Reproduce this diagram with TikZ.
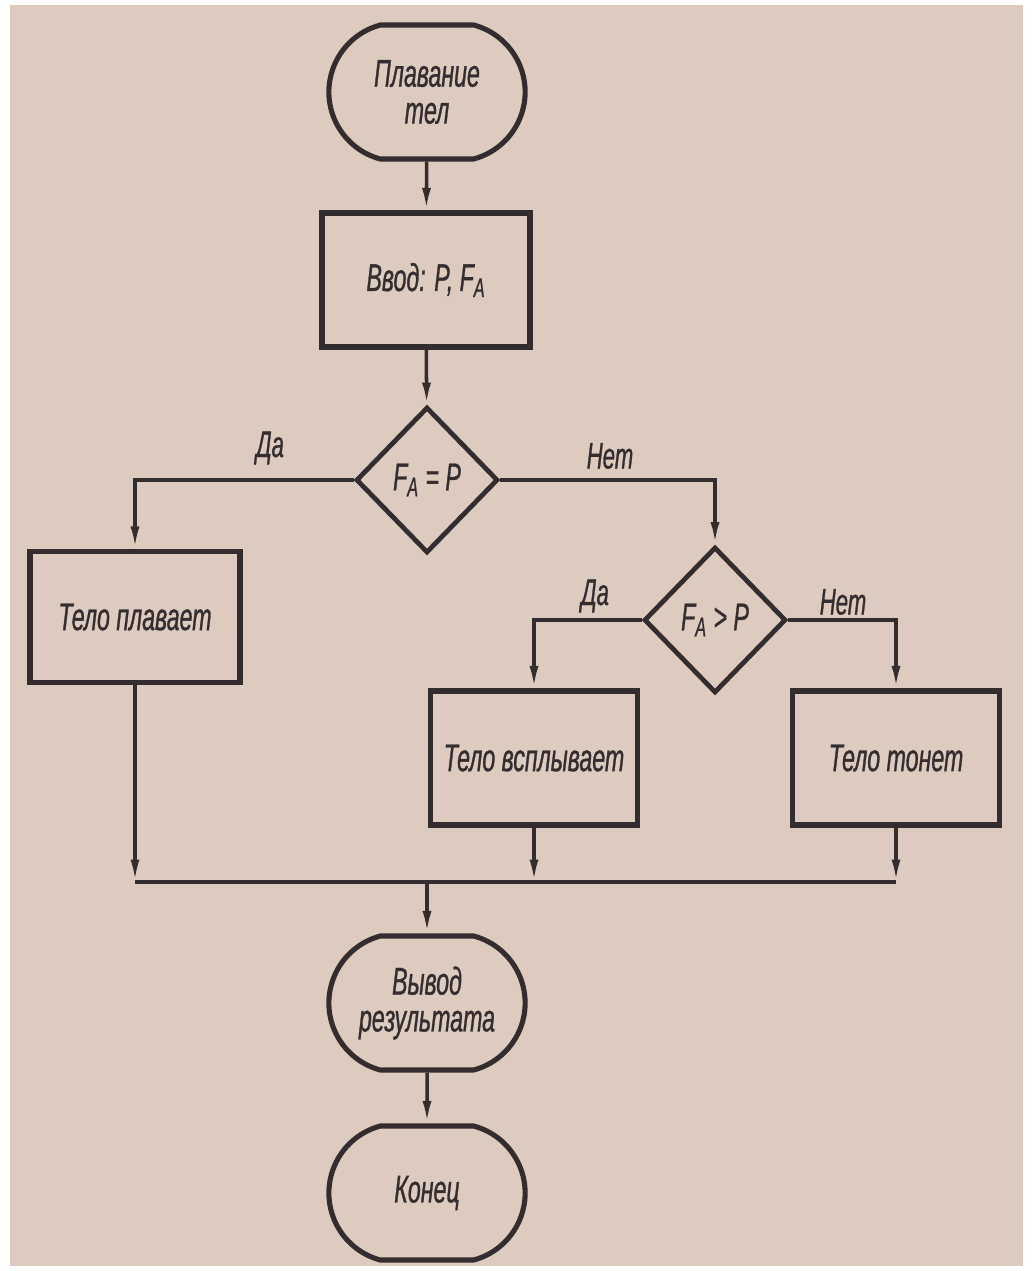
\documentclass[tikz,border=0pt]{standalone}
\usepackage{fontspec}
\setmainfont{Liberation Sans}[FakeStretch=0.6, ItalicFeatures={FakeBold=0.8}]
\usetikzlibrary{shapes.geometric,shapes.misc,arrows.meta}
\definecolor{paper}{RGB}{222,203,192}
\definecolor{ink}{RGB}{52,45,48}
\begin{document}
\begin{tikzpicture}[x=0.02cm,y=-0.02cm,
 lbl/.style={font=\fontsize{22}{21}\selectfont\itshape, text=ink, align=center},
 procbox/.style={draw=ink, line width=2.9pt, minimum width=4.16cm, minimum height=2.68cm, lbl},
 termnode/.style={rounded rectangle, rounded rectangle arc length=150, draw=ink, line width=2.9pt, minimum width=4.16cm, minimum height=2.68cm, lbl},
 decision/.style={diamond, draw=ink, line width=2.7pt, aspect=1, minimum width=2.84cm, minimum height=2.92cm, inner sep=0pt, lbl},
 conn/.style={draw=ink, line width=2pt},
 arr/.style={conn, -{Latex[length=0.45cm,width=0.18cm]}},
 yesno/.style={font=\fontsize{21}{21}\selectfont\itshape, text=ink}]
\fill[white] (0,0) rectangle (1033,1271);
\fill[paper] (10,5) rectangle (1023,1266);
\useasboundingbox (0,0) rectangle (1033,1271);

\node[termnode] (start) at (427,92) {Плавание\\тел};
\node[procbox] (input) at (426,280) {Ввод: P, F\textsubscript{A}};
\node[decision] (d1) at (427,480) {F\textsubscript{A} = P};
\node[procbox, minimum width=4.2cm, minimum height=2.62cm] (floats) at (135,617) {Тело плавает};
\node[decision] (d2) at (715,620) {F\textsubscript{A}\,>\,P};
\node[procbox, minimum width=4.14cm] (rises) at (534,758) {Тело всплывает};
\node[procbox, minimum width=4.14cm] (sinks) at (896,758) {Тело тонет};
\node[termnode] (output) at (427,1003) {Вывод\\результата};
\node[termnode] (finish) at (427,1193) {Конец};

\node[yesno] (yes1) at (270,448) {Да};
\node[yesno] (no1) at (610,456) {Нет};
\node[yesno] (yes2) at (595,596) {Да};
\node[yesno] (no2) at (843,602) {Нет};

\coordinate (j1) at (135,882);
\coordinate (j2) at (534,882);
\coordinate (j3) at (896,882);
\coordinate (jm) at (427,882);

\draw[arr] (start) -- (input);
\draw[arr] (input) -- (d1);
\draw[arr] (d1.west) -| (floats.north);
\draw[arr] (d1.east) -| (d2.north);
\draw[arr] (d2.west) -| (rises.north);
\draw[arr] (d2.east) -| (sinks.north);
\draw[arr] (floats.south) -- (j1);
\draw[arr] (rises.south) -- (j2);
\draw[arr] (sinks.south) -- (j3);
\draw[conn] (j1) -- (j3);
\draw[arr] (jm) -- (output.north);
\draw[arr] (output) -- (finish);
\end{tikzpicture}
\end{document}
